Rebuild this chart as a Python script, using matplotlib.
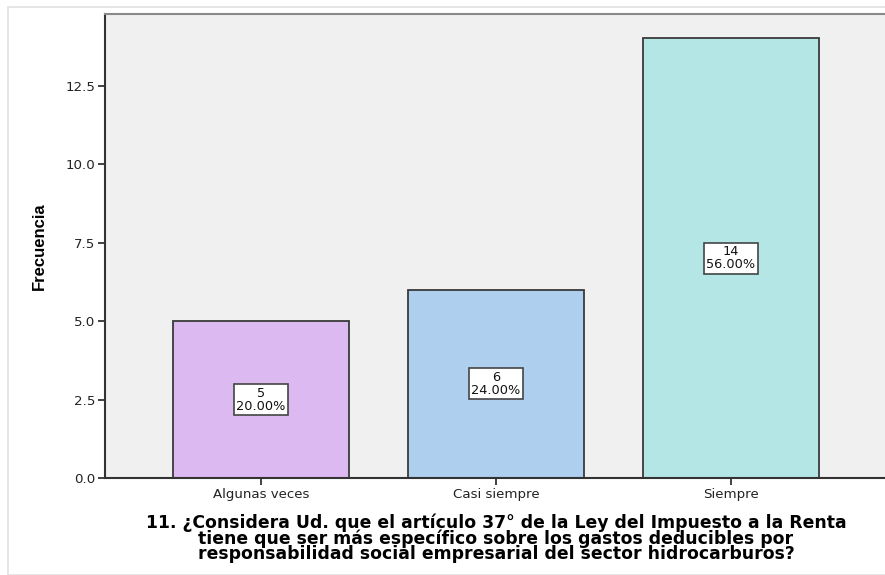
import matplotlib
matplotlib.use("Agg")
import matplotlib.pyplot as plt
from matplotlib.patches import Rectangle

categories = ["Algunas veces", "Casi siempre", "Siempre"]
counts = [5, 6, 14]
percents = [20.00, 24.00, 56.00]
bar_colors = ["#DDB9F1", "#AED0EE", "#B4E6E6"]
y_ticks = [0.0, 2.5, 5.0, 7.5, 10.0, 12.5]
x_title = ("11. ¿Considera Ud. que el artículo 37° de la Ley del Impuesto a la Renta\n"
           "tiene que ser más específico sobre los gastos deducibles por\n"
           "responsabilidad social empresarial del sector hidrocarburos?")
y_title = "Frecuencia"

W, H = 885, 575
plt.rcParams["font.family"] = ["DejaVu Sans"]
fig = plt.figure(figsize=(W / 100, H / 100), dpi=100)

# outer light frame
fig.patches.append(Rectangle((8 / W, 0), 1.0, 1 - 7 / H, transform=fig.transFigure,
                             fill=False, edgecolor="#E2E2E2", linewidth=1.2))

left, right, top, bottom = 105, 887, 14, 478
ax = fig.add_axes([left / W, 1 - bottom / H, (right - left) / W, (bottom - top) / H])
ax.set_facecolor("#F0F0F0")

x = list(range(len(categories)))
ax.bar(x, counts, width=0.75, color=bar_colors, edgecolor="#3A3A3A", linewidth=1.3, zorder=2)

for xi, c, p in zip(x, counts, percents):
    ax.text(xi, c / 2, f"{c}\n{p:.2f}%", ha="center", va="center", fontsize=9.3,
            linespacing=1.0, zorder=3, color="#111111",
            bbox=dict(boxstyle="square,pad=0.2", facecolor="white", edgecolor="#444444",
                      linewidth=1.2))

ax.set_xlim(-0.664, 2.664)
ax.set_ylim(0, 14.78)
ax.set_yticks(y_ticks)
ax.set_yticklabels([f"{t:.1f}" for t in y_ticks])
ax.set_xticks(x)
ax.set_xticklabels(categories)
ax.tick_params(axis="both", direction="out", length=5, width=1.3, color="#333333",
               labelsize=9.6, labelcolor="#222222", pad=2)

for s in ("left", "bottom"):
    ax.spines[s].set_color("#333333")
    ax.spines[s].set_linewidth(1.5)
ax.spines["top"].set_color("#8A8A8A")
ax.spines["top"].set_linewidth(1.5)
ax.spines["right"].set_visible(False)

ax.set_xlabel(x_title, fontsize=12.4, fontweight="bold", linespacing=0.82, labelpad=9)
ax.set_ylabel(y_title, fontsize=12, fontweight="bold", labelpad=13,
              family=["Liberation Sans", "DejaVu Sans"])

fig.savefig("out.png", dpi=100)
